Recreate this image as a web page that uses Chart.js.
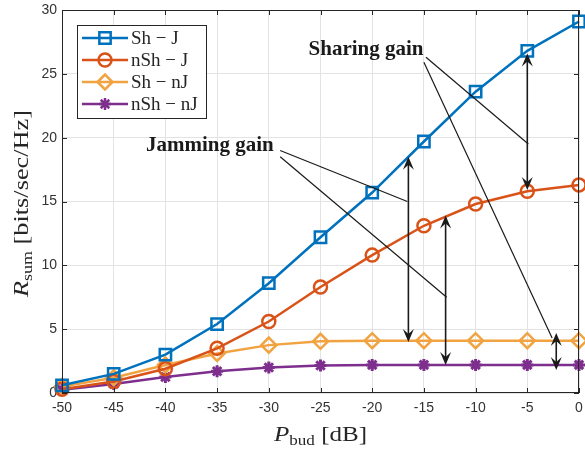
<!DOCTYPE html>
<html>
<head>
<meta charset="utf-8">
<script src="https://cdn.jsdelivr.net/npm/chart.js@4.4.1/dist/chart.umd.min.js"></script>
<style>
  html, body { margin: 0; padding: 0; background: #fff; }
  #wrap { width: 585px; height: 450px; }
</style>
</head>
<body>
<div id="wrap"><canvas id="chart"></canvas></div>
<script>
// --- Data ---
const budgets = [-50, -45, -40, -35, -30, -25, -20, -15, -10, -5, 0];
const shJ   = [0.6, 1.5, 3.0, 5.4, 8.6, 12.2, 15.7, 19.7, 23.6, 26.8, 29.1];
const nshJ  = [0.3, 0.9, 1.9, 3.5, 5.6, 8.3, 10.8, 13.1, 14.8, 15.8, 16.3];
const shNJ  = [0.5, 1.2, 2.2, 3.1, 3.75, 4.05, 4.1, 4.1, 4.1, 4.1, 4.1];
const nshNJ = [0.25, 0.7, 1.25, 1.7, 2.0, 2.15, 2.2, 2.2, 2.2, 2.2, 2.2];
const seriesNames = ['Sh − J', 'nSh − J', 'Sh − nJ', 'nSh − nJ'];

// annotation arrows / leaders in data units
const jamArrows = [{ x: -16.5, top: 18.5, bottom: 4.0 }, { x: -12.9, top: 13.9, bottom: 2.2 }];
const shareArrows = [{ x: -5, top: 26.6, bottom: 15.9 }, { x: -2.2, top: 4.7, bottom: 1.8 }];
const jamLeaders = [[-28.9, 19.0, -16.6, 15.0], [-28.9, 18.5, -12.8, 7.5]];
const shareLeaders = [[-14.8, 26.3, -4.9, 19.5], [-15.0, 25.9, -2.6, 4.3]];
const jamLabel = { text: 'Jamming gain', x: -35.7, y: 19.35 };
const shareLabel = { text: 'Sharing gain', x: -20.6, y: 26.9 };

const SERIF = '"Liberation Serif", "Times New Roman", serif';
const SANS = '"Liberation Sans", Arial, Helvetica, sans-serif';
const INK = '#262626';

const styles = [
  { color: '#0072BD', pointStyle: 'rect', radius: 8 },
  { color: '#D95319', pointStyle: 'circle', radius: 6.5 },
  { color: '#F2A341', pointStyle: 'rectRot', radius: 7.5 },
  { color: '#7E2F8E', pointStyle: 'star', radius: 6 }
];
const series = [shJ, nshJ, shNJ, nshNJ];

// --- Helpers ---
function drawRuns(ctx, runs, cx, baseY, width) {
  let total = 0;
  runs.forEach(r => { ctx.font = r.font; r.w = ctx.measureText(r.text).width; total += r.w; });
  const s = width ? width / total : 1;
  ctx.save();
  ctx.translate(cx - total * s / 2, baseY);
  ctx.scale(s, 1);
  ctx.textAlign = 'left';
  ctx.textBaseline = 'alphabetic';
  let x = 0;
  runs.forEach(r => { ctx.font = r.font; ctx.fillText(r.text, x, r.dy || 0); x += r.w; });
  ctx.restore();
}

function arrowHead(ctx, x, y, dir) { // dir +1: points down, -1: points up
  const L = 13, W = 5.5, N = 8;
  ctx.beginPath();
  ctx.moveTo(x, y);
  ctx.lineTo(x - W, y - dir * L);
  ctx.lineTo(x, y - dir * N);
  ctx.lineTo(x + W, y - dir * L);
  ctx.closePath();
  ctx.fill();
}

// --- Plugins ---
const framePlugin = {
  id: 'frame',
  afterDatasetsDraw(chart) {
    const { ctx, chartArea: a, scales: { x, y } } = chart;
    ctx.save();
    ctx.strokeStyle = INK;
    ctx.lineWidth = 1;
    ctx.strokeRect(a.left + 0.5, a.top + 0.5, a.right - a.left - 1, a.bottom - a.top - 1);
    // inward tick marks
    ctx.beginPath();
    budgets.forEach(b => {
      const px = Math.round(x.getPixelForValue(b)) + 0.5;
      ctx.moveTo(px, a.bottom); ctx.lineTo(px, a.bottom - 5);
      ctx.moveTo(px, a.top); ctx.lineTo(px, a.top + 5);
    });
    y.ticks.forEach(t => {
      const py = Math.round(y.getPixelForValue(t.value)) + 0.5;
      ctx.moveTo(a.left, py); ctx.lineTo(a.left + 5, py);
      ctx.moveTo(a.right, py); ctx.lineTo(a.right - 5, py);
    });
    ctx.stroke();

    // annotations
    ctx.strokeStyle = '#1a1a1a';
    ctx.fillStyle = '#1a1a1a';
    ctx.lineWidth = 1.2;
    [...jamLeaders, ...shareLeaders].forEach(l => {
      ctx.beginPath();
      ctx.moveTo(x.getPixelForValue(l[0]), y.getPixelForValue(l[1]));
      ctx.lineTo(x.getPixelForValue(l[2]), y.getPixelForValue(l[3]));
      ctx.stroke();
    });
    ctx.lineWidth = 1.6;
    [...jamArrows, ...shareArrows].forEach(ar => {
      const px = x.getPixelForValue(ar.x);
      const pt = y.getPixelForValue(ar.top), pb = y.getPixelForValue(ar.bottom);
      ctx.beginPath();
      ctx.moveTo(px, pt + 6); ctx.lineTo(px, pb - 6);
      ctx.stroke();
      arrowHead(ctx, px, pt, -1);
      arrowHead(ctx, px, pb, 1);
    });
    ctx.font = 'bold 21px ' + SERIF;
    ctx.textAlign = 'center';
    ctx.textBaseline = 'middle';
    [jamLabel, shareLabel].forEach(lb => {
      ctx.fillText(lb.text, x.getPixelForValue(lb.x), y.getPixelForValue(lb.y));
    });

    // legend
    const bx = 77, by = 25, bw = 129, bh = 93;
    ctx.fillStyle = '#fff';
    ctx.fillRect(bx, by, bw, bh);
    ctx.strokeStyle = INK;
    ctx.lineWidth = 1;
    ctx.strokeRect(bx + 0.5, by + 0.5, bw, bh);
    chart.data.datasets.forEach((ds, i) => {
      const ry = by + 13 + i * 22;
      ctx.strokeStyle = ds.borderColor;
      ctx.fillStyle = ds.pointBackgroundColor;
      ctx.lineWidth = 2.5;
      ctx.beginPath();
      ctx.moveTo(82, ry); ctx.lineTo(128, ry);
      ctx.stroke();
      Chart.helpers.drawPoint(ctx, { pointStyle: ds.pointStyle, radius: ds.pointRadius, rotation: 0, borderWidth: ds.pointBorderWidth }, 105, ry);
      ctx.fillStyle = INK;
      ctx.font = '19px ' + SERIF;
      ctx.textAlign = 'left';
      ctx.textBaseline = 'middle';
      ctx.fillText(ds.label, 131, ry + 1);
    });

    // axis titles
    ctx.fillStyle = INK;
    drawRuns(ctx, [
      { text: 'P', font: 'italic 22px ' + SERIF },
      { text: 'bud', font: '15px ' + SERIF, dy: 4 },
      { text: ' [dB]', font: '22px ' + SERIF }
    ], 320.5, 441, 93);
    ctx.save();
    ctx.translate(28, 203.5);
    ctx.rotate(-Math.PI / 2);
    drawRuns(ctx, [
      { text: 'R', font: 'italic 22px ' + SERIF },
      { text: 'sum', font: '15px ' + SERIF, dy: 4 },
      { text: ' [bits/sec/Hz]', font: '22px ' + SERIF }
    ], 0, 0, 187);
    ctx.restore();
    ctx.restore();
  }
};

// --- Chart ---
const ctx = document.getElementById('chart').getContext('2d');
new Chart(ctx, {
  type: 'line',
  data: {
    datasets: series.map((vals, i) => ({
      label: seriesNames[i],
      data: budgets.map((b, j) => ({ x: b, y: vals[j] })),
      borderColor: styles[i].color,
      backgroundColor: styles[i].color,
      borderWidth: 2.5,
      pointStyle: styles[i].pointStyle,
      pointRadius: styles[i].radius,
      pointBorderWidth: i === 3 ? 3 : 2.5,
      pointBorderColor: styles[i].color,
      pointBackgroundColor: i === 3 ? styles[i].color : 'rgba(0,0,0,0)',
      tension: 0,
      clip: false
    }))
  },
  options: {
    responsive: true,
    maintainAspectRatio: false,
    animation: false,
    layout: { autoPadding: false, padding: { top: 10, right: 6, left: 0, bottom: 0 } },
    plugins: { legend: { display: false }, tooltip: { enabled: false } },
    scales: {
      x: {
        type: 'linear', min: -50, max: 0,
        afterFit: s => { s.height = 57; s.paddingLeft = 0; s.paddingRight = 0; },
        afterBuildTicks: s => { s.ticks = budgets.map(v => ({ value: v })); },
        grid: { color: '#e3e3e3', drawTicks: false },
        border: { display: false },
        ticks: { padding: 7, color: '#333', font: { family: SANS, size: 14 }, maxRotation: 0, callback: v => String(v) }
      },
      y: {
        min: 0, max: 30,
        afterFit: s => { s.width = 62; s.paddingTop = 0; s.paddingBottom = 0; },
        grid: { color: '#e3e3e3', drawTicks: false },
        border: { display: false },
        ticks: { stepSize: 5, padding: 5, color: '#333', font: { family: SANS, size: 14 } }
      }
    }
  },
  plugins: [framePlugin]
});
</script>
</body>
</html>
